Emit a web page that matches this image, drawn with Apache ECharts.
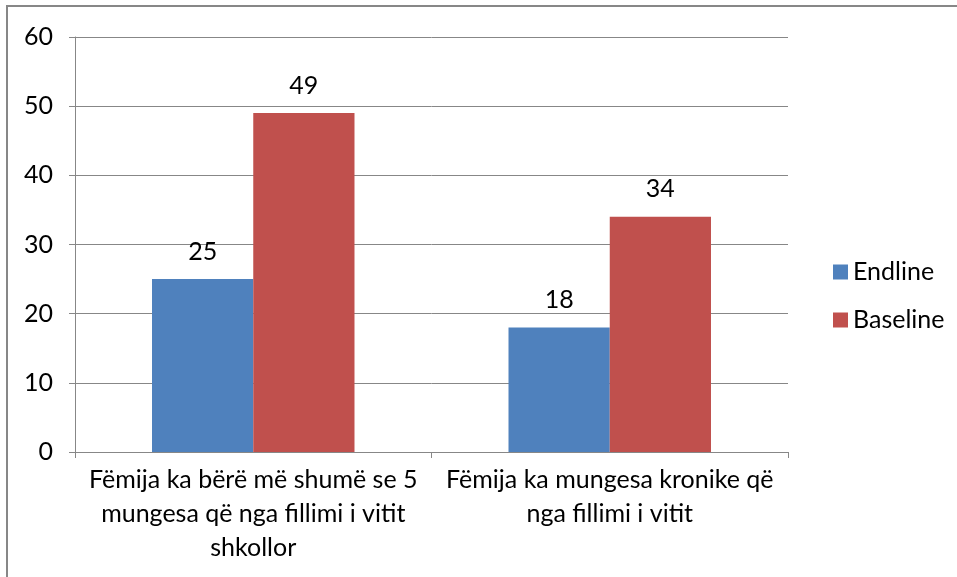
<!DOCTYPE html>
<html>
<head>
<meta charset="utf-8">
<script src="https://cdn.jsdelivr.net/npm/echarts@6/dist/echarts.min.js"></script>
<style>
html,body{margin:0;padding:0;background:#fff;}
#chart{width:957px;height:577px;}
</style>
</head>
<body>
<div id="chart"></div>
<script>
var categories = [
  "Fëmija ka bërë më shumë se 5\nmungesa që nga fillimi i vitit\nshkollor",
  "Fëmija ka mungesa kronike që\nnga fillimi i vitit"
];
var seriesNames = ["Endline", "Baseline"];
var endlineValues = [25, 18];
var baselineValues = [49, 34];
var yTicks = { min: 0, max: 60, interval: 10 };

var FONT = 'Lato';
var FS = 25;
var GRAY = '#878787';
var chart = echarts.init(document.getElementById('chart'));
chart.setOption({
  animation: false,
  backgroundColor: '#ffffff',
  textStyle: { fontFamily: FONT },
  graphic: [{
    type: 'rect',
    shape: { x: 7, y: 6, width: 1000, height: 1000 },
    style: { fill: 'none', stroke: GRAY, lineWidth: 2 },
    silent: true
  }],
  grid: { left: 75, right: 169, top: 37, bottom: 125 },
  legend: {
    orient: 'vertical',
    left: 828,
    top: 253,
    itemWidth: 15,
    itemHeight: 15,
    itemGap: 20,
    icon: 'rect',
    textStyle: { fontFamily: FONT, fontSize: FS, color: '#000', lineHeight: 28 },
    data: seriesNames
  },
  xAxis: {
    type: 'category',
    data: categories,
    axisLine: { show: true, lineStyle: { color: GRAY, width: 1 } },
    axisTick: { show: true, length: 6, lineStyle: { color: GRAY } },
    axisLabel: {
      color: '#000', fontFamily: FONT, fontSize: FS, lineHeight: 34, margin: 11, interval: 0
    }
  },
  yAxis: {
    type: 'value',
    min: yTicks.min, max: yTicks.max, interval: yTicks.interval,
    axisLine: { show: true, lineStyle: { color: GRAY, width: 1 } },
    axisTick: { show: true, length: 6, lineStyle: { color: GRAY } },
    splitLine: { show: true, lineStyle: { color: GRAY, width: 1 } },
    axisLabel: { color: '#000', fontFamily: FONT, fontSize: FS, margin: 22 }
  },
  series: [
    {
      name: seriesNames[0], type: 'bar', data: endlineValues,
      barWidth: '28.4%', barGap: '0%',
      itemStyle: { color: '#4F81BD' },
      label: { show: true, position: 'top', distance: 15, color: '#000', fontFamily: FONT, fontSize: FS }
    },
    {
      name: seriesNames[1], type: 'bar', data: baselineValues,
      barWidth: '28.4%', barGap: '0%',
      itemStyle: { color: '#C0504D' },
      label: { show: true, position: 'top', distance: 15, color: '#000', fontFamily: FONT, fontSize: FS }
    }
  ]
});
</script>
</body>
</html>
